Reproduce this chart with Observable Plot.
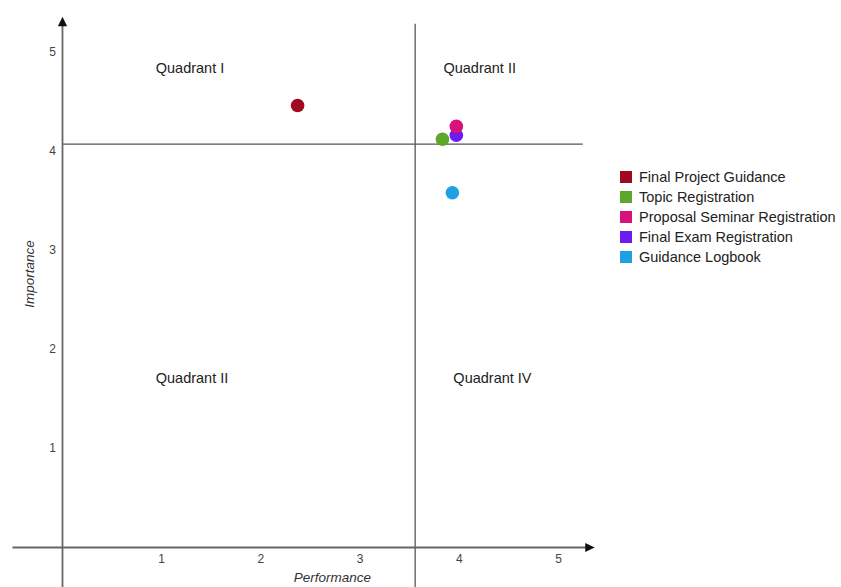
<!DOCTYPE html>
<html>
<head>
<meta charset="utf-8">
<script src="https://cdn.jsdelivr.net/npm/d3@7"></script>
<script src="https://cdn.jsdelivr.net/npm/@observablehq/plot@0.6"></script>
<style>
  body { margin: 0; background: #fff; font-family: "Liberation Sans", Arial, sans-serif; }
  #wrap { position: relative; width: 841px; height: 587px; overflow: hidden; }
  #legend { position: absolute; left: 620px; top: 167px; font-size: 14.5px; color: #222; }
  .row { height: 20px; line-height: 20px; white-space: nowrap; display: flex; align-items: center; }
  .sw { width: 12px; height: 12px; margin-right: 7px; flex: none; }
</style>
</head>
<body>
<div id="wrap"></div>
<script>
// ---- data ----
const services = ["Final Project Guidance", "Topic Registration", "Proposal Seminar Registration", "Final Exam Registration", "Guidance Logbook"];
const performance = [2.37, 3.83, 3.97, 3.97, 3.93];
const importance = [4.46, 4.12, 4.25, 4.16, 3.58];
const colors = ["#a0091f", "#5ea62c", "#d8127a", "#6c1cf2", "#1ea0e2"];
const drawOrder = [0, 1, 3, 2, 4];

const xTicks = [1, 2, 3, 4, 5];
const yTicks = [1, 2, 3, 4, 5];
const meanPerformance = 3.555;
const meanImportance = 4.07;

const quadLabels = ["Quadrant I", "Quadrant II", "Quadrant II", "Quadrant IV"];
const quadX = [0.94, 3.84, 0.94, 3.94];
const quadY = [4.83, 4.83, 1.71, 1.71];

const xAxisExtent = [-0.5, 5.3];
const yAxisExtent = [-0.45, 5.3];
const xTitle = "Performance";
const yTitle = "Importance";

// ---- build ----
const points = drawOrder.map(i => ({name: services[i], x: performance[i], y: importance[i]}));
const quads = quadLabels.map((t, i) => ({t, x: quadX[i], y: quadY[i]}));

const rightTri = { draw(ctx) { ctx.moveTo(5, 0); ctx.lineTo(-4.5, -4.6); ctx.lineTo(-4.5, 4.6); ctx.closePath(); } };
const upTri = { draw(ctx) { ctx.moveTo(0, -5); ctx.lineTo(-4.6, 4.5); ctx.lineTo(4.6, 4.5); ctx.closePath(); } };

const chart = Plot.plot({
  width: 841,
  height: 587,
  marginTop: 0, marginRight: 0, marginBottom: 0, marginLeft: 0,
  style: { fontFamily: "'Liberation Sans', Arial, sans-serif", background: "white" },
  x: { domain: [0, 5], range: [62, 558], axis: null },
  y: { domain: [0, 5], range: [547, 51.5], axis: null },
  color: { domain: services, range: colors },
  marks: [
    // quadrant dividers
    Plot.ruleX([meanPerformance], { y1: yAxisExtent[0], y2: 5.28, stroke: "#555", strokeWidth: 1.3 }),
    Plot.ruleY([meanImportance], { x1: 0, x2: 5.25, stroke: "#555", strokeWidth: 1.3 }),
    // axes
    Plot.ruleY([0], { x1: xAxisExtent[0], x2: xAxisExtent[1], stroke: "#666", strokeWidth: 1.8 }),
    Plot.ruleX([0], { y1: yAxisExtent[0], y2: yAxisExtent[1], stroke: "#666", strokeWidth: 1.8 }),
    Plot.dot([xAxisExtent[1]], { x: d => d + 0.015, y: 0, symbol: rightTri, fill: "#111", stroke: null }),
    Plot.dot([yAxisExtent[1]], { x: 0, y: d => d + 0.005, symbol: upTri, fill: "#111", stroke: null }),
    // tick labels
    Plot.text(xTicks, { x: d => d, y: 0, dy: 12, text: d => String(d), fontSize: 12, fill: "#444" }),
    Plot.text(yTicks, { x: 0, y: d => d, dx: -10, text: d => String(d), fontSize: 12, fill: "#444" }),
    // axis titles
    Plot.text([xTitle], { x: 2.72, y: 0, dy: 30, text: d => d, fontSize: 13.5, fontStyle: "italic", fill: "#333" }),
    Plot.text([yTitle], { x: 0, y: 2.76, dx: -33, rotate: -90, text: d => d, fontSize: 13.5, fontStyle: "italic", fill: "#333" }),
    // quadrant labels
    Plot.text(quads, { x: "x", y: "y", text: "t", textAnchor: "start", fontSize: 14.5, fill: "#222" }),
    // points
    Plot.dot(points, { x: "x", y: "y", fill: "name", r: 6.8, stroke: null })
  ]
});

const wrap = document.getElementById("wrap");
wrap.appendChild(chart);

const legend = document.createElement("div");
legend.id = "legend";
services.forEach((s, i) => {
  const row = document.createElement("div");
  row.className = "row";
  const sw = document.createElement("span");
  sw.className = "sw";
  sw.style.background = colors[i];
  const label = document.createElement("span");
  label.textContent = s;
  row.appendChild(sw);
  row.appendChild(label);
  legend.appendChild(row);
});
wrap.appendChild(legend);
</script>
</body>
</html>
